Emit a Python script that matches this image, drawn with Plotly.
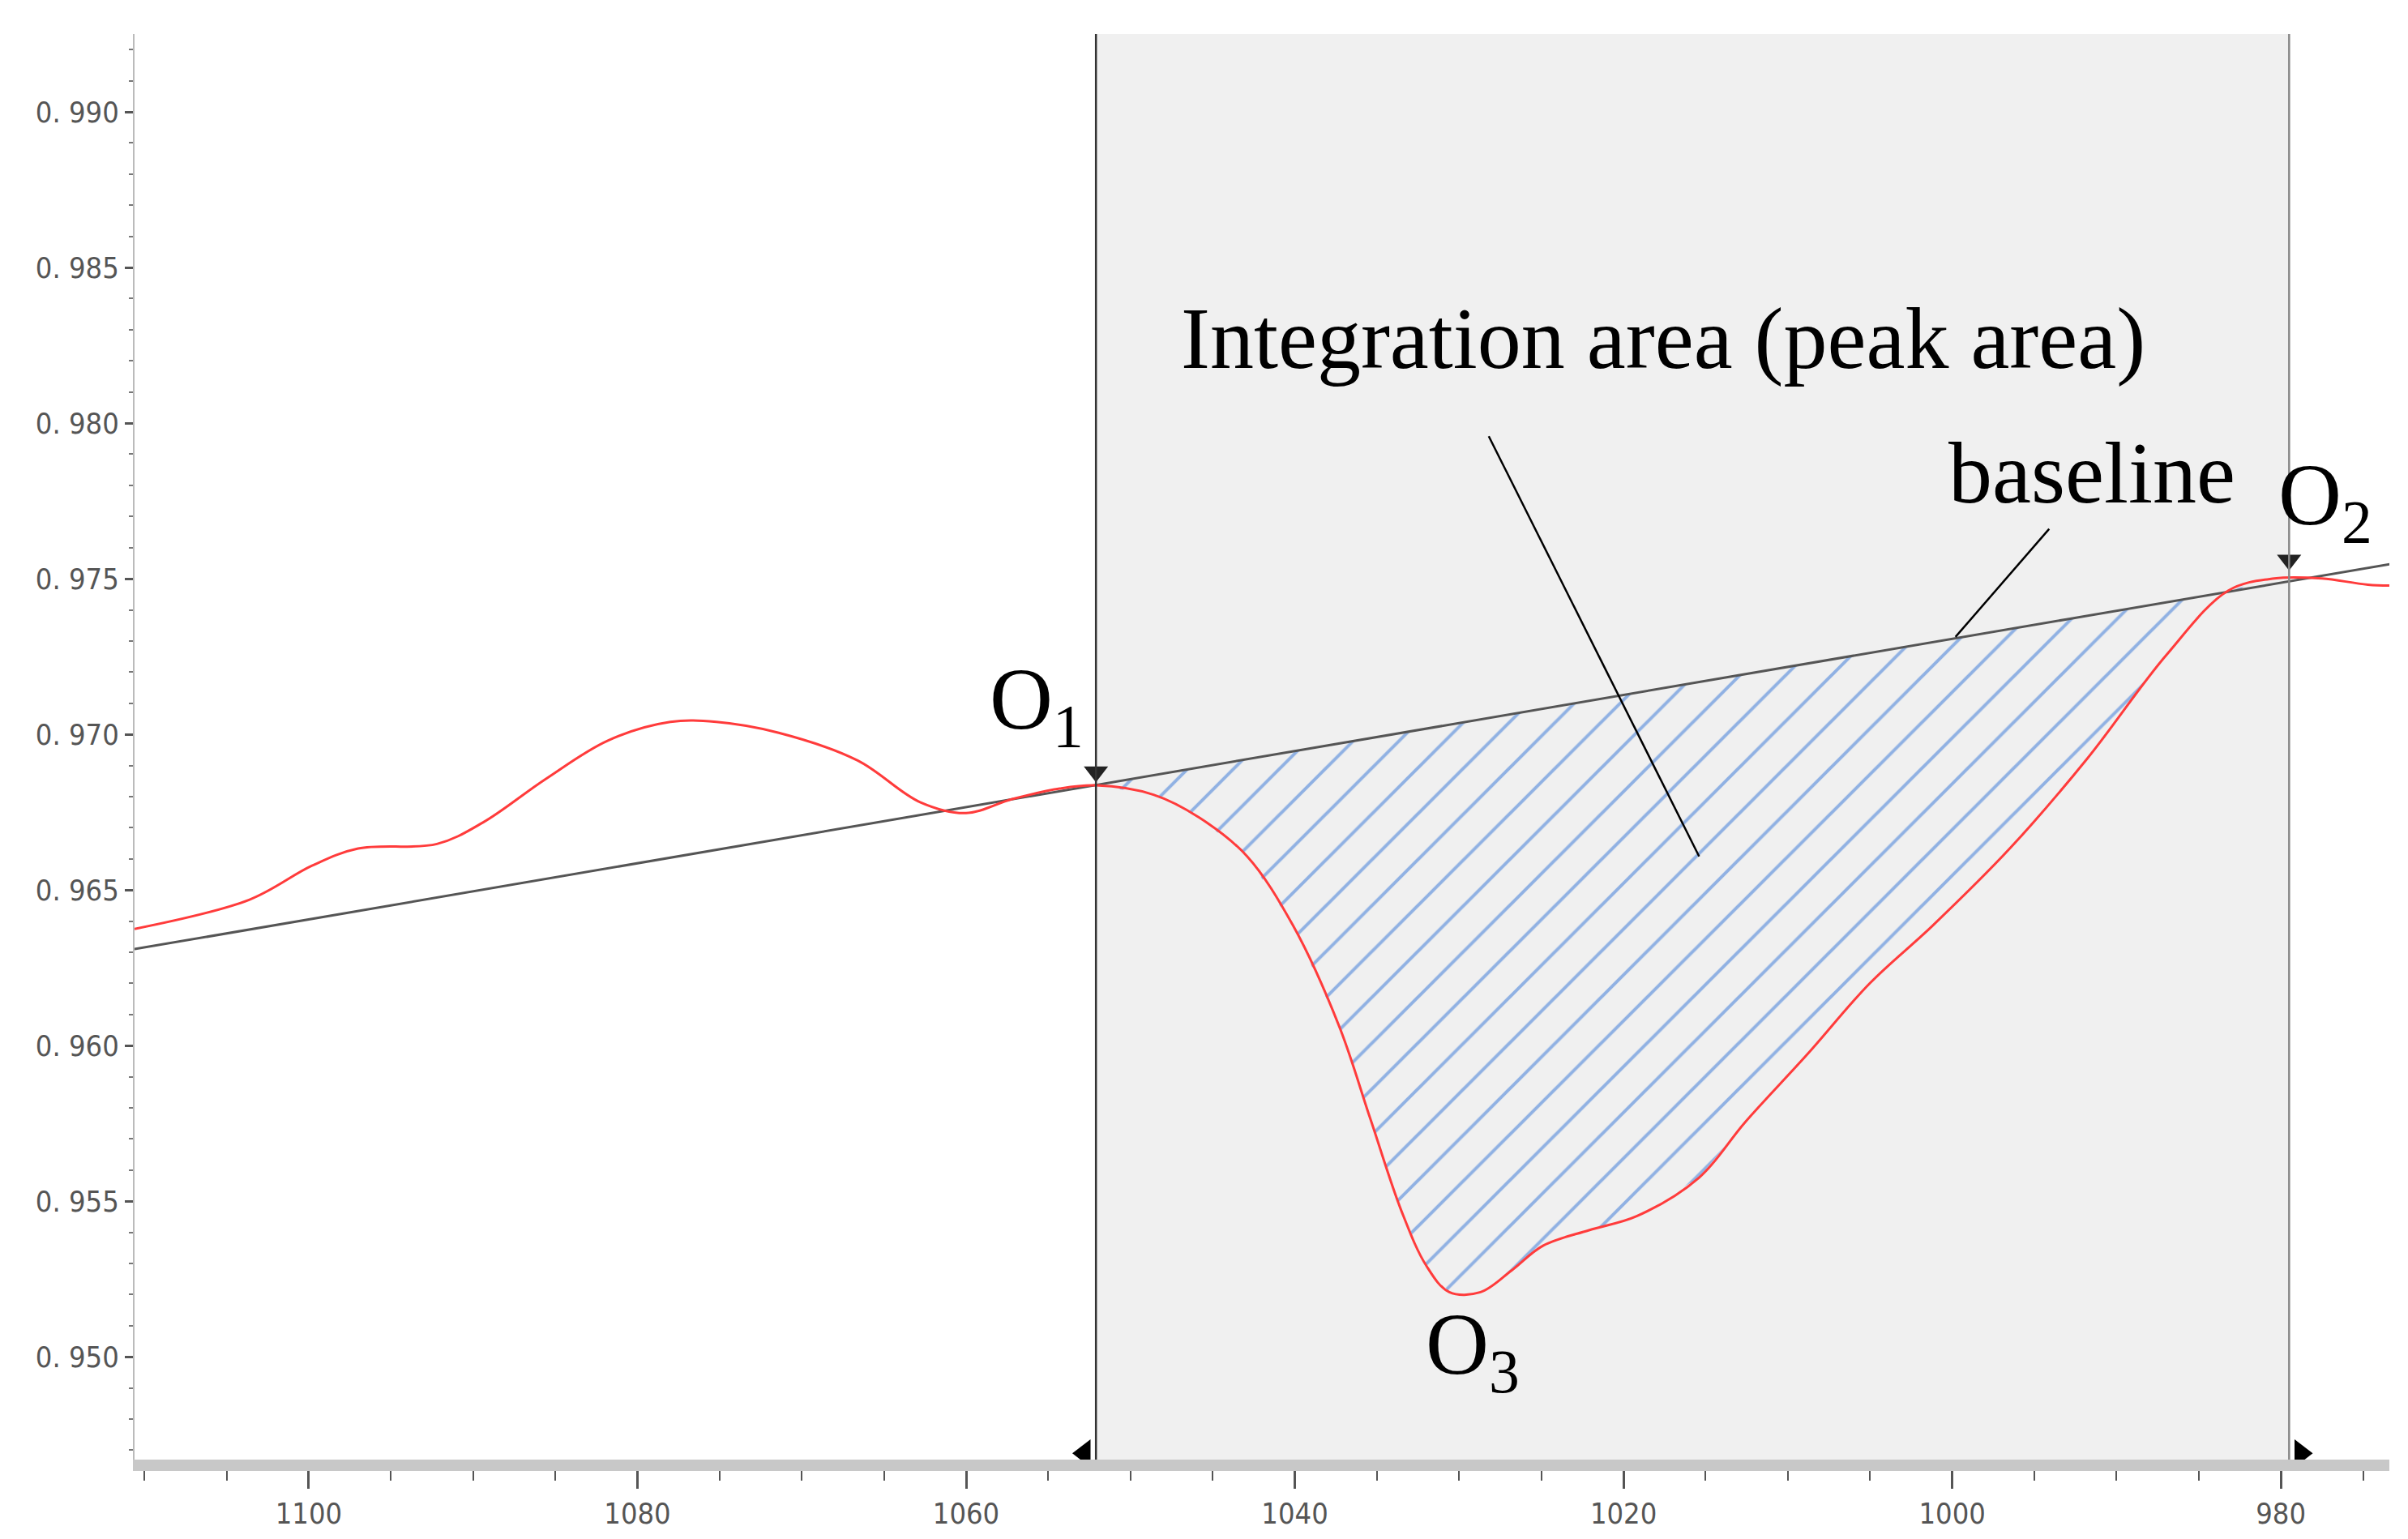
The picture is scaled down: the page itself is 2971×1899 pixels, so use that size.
import numpy as np
import plotly.graph_objects as go

wn = [1110.6,1103.6,1099.8,1097.0,1092.2,1089.4,1085.6,1081.8,1078.0,1075.2,1071.4,1066.6,1062.8,1060.0,1057.2,1054.3,1052.1,1048.6,1045.8,1042.9,1040.1,1037.3,1035.4,1033.5,1032.0,1030.6,1028.7,1026.8,1024.9,1022.1,1019.2,1015.4,1012.6,1008.8,1005.0,1001.2,996.5,991.8,987.0,983.2,980.4,977.5,974.7,971.8]
ab = [0.96375,0.96469,0.96578,0.96633,0.96648,0.96717,0.96856,0.96980,0.97040,0.97040,0.97005,0.96916,0.96782,0.96747,0.96792,0.96826,0.96836,0.96806,0.96732,0.96608,0.96385,0.96062,0.95764,0.95467,0.95293,0.95208,0.95208,0.95278,0.95357,0.95407,0.95452,0.95576,0.95754,0.95973,0.96201,0.96385,0.96633,0.96921,0.97253,0.97462,0.97501,0.97501,0.97481,0.97477]
base_x = [1110.6, 971.8]
base_y = [0.96310, 0.97561]
o1_x, o2_x = 1052.1, 979.5
yticks = [0.950,0.955,0.960,0.965,0.970,0.975,0.980,0.985,0.990]
ytext = ["0. " + ("%.3f" % v)[2:] for v in yticks]
xticks = [1100,1080,1060,1040,1020,1000,980]

wn_a = np.array(wn); ab_a = np.array(ab)
mask = (wn_a <= o1_x) & (wn_a >= o2_x)
rx = np.concatenate([[o1_x], wn_a[mask], [o2_x]])
ry = np.interp(rx[::-1], wn_a[::-1], ab_a[::-1])[::-1]
bx = np.interp(rx, base_x[::-1], base_y[::-1])

fig = go.Figure()
fig.add_shape(type="rect", xref="x", yref="paper", x0=o1_x, x1=o2_x, y0=0, y1=1,
              fillcolor="#f0f0f0", line_width=0, layer="below")
for xv, c in [(o1_x, "#333333"), (o2_x, "#888888")]:
    fig.add_shape(type="line", xref="x", yref="paper", x0=xv, x1=xv, y0=0, y1=1,
                  line=dict(color=c, width=2.5))
fig.add_trace(go.Scatter(x=rx, y=bx, mode="lines", line=dict(width=0), showlegend=False, hoverinfo="skip"))
fig.add_trace(go.Scatter(x=rx, y=ry, mode="lines", line=dict(width=0), fill="tonexty",
                         fillcolor="rgba(0,0,0,0)",
                         fillpattern=dict(shape="/", fgcolor="#2f72d6", bgcolor="rgba(0,0,0,0)",
                                          size=40, solidity=0.1),
                         showlegend=False, hoverinfo="skip"))
fig.add_trace(go.Scatter(x=base_x, y=base_y, mode="lines", line=dict(color="#555555", width=3), showlegend=False))
fig.add_trace(go.Scatter(x=wn, y=ab, mode="lines", line=dict(color="#ff3b3b", width=3, shape="spline"), showlegend=False))
fig.add_trace(go.Scatter(x=[o1_x, o2_x], y=[0.9688, 0.9756], mode="markers",
                         marker=dict(symbol="triangle-down", size=26, color="#222222"), showlegend=False))
fig.add_trace(go.Scatter(x=[o1_x + 0.7, o2_x - 0.7], y=[0.9469, 0.9469], mode="markers",
                         marker=dict(symbol=["triangle-left", "triangle-right"], size=30, color="#000000"), showlegend=False))
fig.add_trace(go.Scatter(x=[1028.2, 1015.4], y=[0.97958, 0.96608], mode="lines", line=dict(color="#000", width=2.5), showlegend=False))
fig.add_trace(go.Scatter(x=[994.1, 999.8], y=[0.97660, 0.97313], mode="lines", line=dict(color="#000", width=2.5), showlegend=False))

serif = "Liberation Serif"
for txt, x, y in [("Integration area (peak area)", 1017.6, 0.98270),
                  ("baseline", 991.5, 0.97839),
                  ("O<sub>1</sub>", 1055.7, 0.97094),
                  ("O<sub>2</sub>", 977.3, 0.97749),
                  ("O<sub>3</sub>", 1029.2, 0.95020)]:
    fig.add_annotation(x=x, y=y, text=txt, showarrow=False, font=dict(family=serif, size=108, color="#000"))

fig.update_layout(width=2971, height=1899, margin=dict(l=158, r=31, t=34, b=106),
                  plot_bgcolor="white", paper_bgcolor="white",
                  font=dict(family="DejaVu Sans Condensed", size=36, color="#555"))
fig.update_xaxes(range=[1110.6, 973.4], showgrid=False, zeroline=False, showline=True,
                 linecolor="#c8c8c8", linewidth=14, ticks="outside", ticklen=22, tickwidth=3,
                 tickcolor="#555", tickvals=xticks, ticktext=[str(v) for v in xticks],
                 minor=dict(dtick=5, ticks="outside", ticklen=12, tickcolor="#555", tickwidth=2))
fig.update_yaxes(range=[0.9467, 0.9925], showgrid=False, zeroline=False, showline=True,
                 linecolor="#bbbbbb", linewidth=2, ticks="outside", ticklen=10, tickwidth=3,
                 tickcolor="#555", tickvals=yticks, ticktext=ytext,
                 minor=dict(dtick=0.001, ticks="outside", ticklen=5, tickcolor="#777", tickwidth=2))
fig.write_html("out.html")
